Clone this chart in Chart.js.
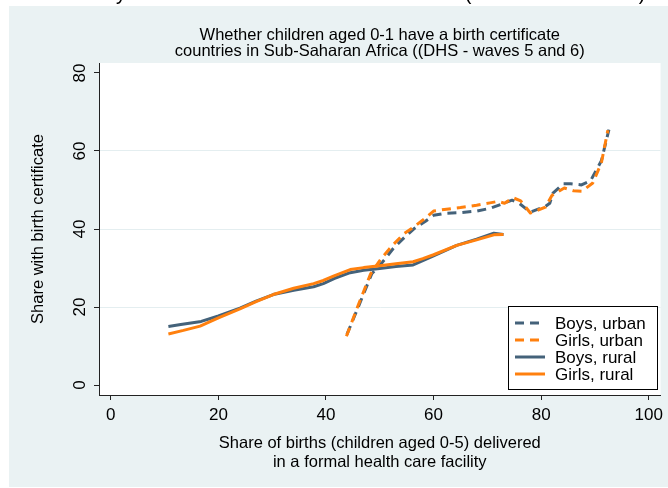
<!DOCTYPE html>
<html>
<head>
<meta charset="utf-8">
<script src="https://cdn.jsdelivr.net/npm/chart.js@4.4.1/dist/chart.umd.min.js"></script>
<style>
  html, body { margin: 0; padding: 0; background: #fff; }
  #wrap { width: 668px; height: 488px; }
</style>
</head>
<body>
<div id="wrap"><canvas id="myChart" width="668" height="488"></canvas></div>
<script>
// tick labels
var xTicks = [0, 20, 40, 60, 80, 100];
var yTicks = [0, 20, 40, 60, 80];

// series (x = share delivered in facility, y = share with certificate)
var boysUrbanX = [43.9, 46, 48.5, 50.5, 52.5, 54.7, 56.5, 58.5, 60, 62, 65, 68, 70.5, 72.5, 74.6, 76, 78, 80.8, 81.6, 82.2, 84.1, 85.5, 87.5, 89.2, 91.2, 92.6];
var boysUrbanY = [13, 20, 28.5, 31.5, 35, 38, 40.2, 42, 43.5, 44, 44.2, 44.6, 45.3, 46.3, 47.4, 46.5, 44.3, 45.8, 46.6, 49.2, 51.6, 51.6, 51.3, 52.4, 57.5, 65.5];

var girlsUrbanX = [43.8, 46, 48.3, 50.3, 52.5, 54.5, 56.3, 58.2, 60, 62, 65, 68, 70.5, 72, 73.2, 74.8, 76.2, 78, 80.8, 82, 84.3, 86, 87.6, 89.6, 91.2, 92.4];
var girlsUrbanY = [12.5, 20.5, 28.5, 32.5, 36, 38.8, 40.5, 42.5, 44.6, 45, 45.5, 46.1, 46.7, 47.1, 46.6, 48, 47.2, 44.1, 45.6, 48.6, 50.5, 49.8, 49.7, 51.8, 57, 65.3];

var boysRuralX = [10.7, 13, 16.8, 20, 24, 27, 30.2, 34, 37.7, 39.5, 41.5, 44.5, 47, 50, 53, 56.2, 58, 60, 64.3, 68, 71.2, 73];
var boysRuralY = [15, 15.5, 16.3, 17.7, 19.7, 21.5, 23.2, 24.3, 25.2, 26, 27.3, 28.8, 29.4, 29.9, 30.4, 30.8, 31.9, 33.1, 35.8, 37.4, 38.9, 38.6];

var girlsRuralX = [10.7, 13.5, 16.6, 20, 24, 27, 30.2, 34, 37.7, 39.5, 41.5, 44.5, 47, 50, 53, 56.2, 58, 60, 64.3, 68, 71.2, 73];
var girlsRuralY = [13.1, 14, 15.1, 17.2, 19.5, 21.4, 23.2, 24.8, 26, 26.8, 28, 29.6, 30.1, 30.6, 31.1, 31.6, 32.4, 33.4, 35.8, 37.2, 38.5, 38.6];

var seriesLabels = ["Boys, urban", "Girls, urban", "Boys, rural", "Girls, rural"];

var BLUE = "#44627a";
var ORANGE = "#ff800e";
var BG = "#eaf2f3";
var FONT = "'Liberation Sans', Arial, Helvetica, sans-serif";

function pts(xs, ys) {
    return xs.map(function (x, i) { return { x: x, y: ys[i] }; });
}

var decor = {
    id: 'decor',
    beforeDraw: function (chart) {
        var c = chart.ctx, a = chart.chartArea;
        c.save();
        c.fillStyle = "#fff";
        c.fillRect(0, 0, chart.width, chart.height);
        // descenders of the line above, cut off by the crop
        c.fillStyle = "#000";
        c.font = "20px " + FONT;
        c.textBaseline = "alphabetic";
        c.textAlign = "center";
        c.fillText("y", 121, 0);
        c.fillText("(", 468, 0);
        c.fillText(")", 642, 0);
        c.fillStyle = BG;
        c.fillRect(9, 6, chart.width - 9, 481);
        c.fillStyle = "#fff";
        c.fillRect(a.left, a.top, a.right - a.left, a.bottom - a.top);
        c.restore();
    },
    afterDraw: function (chart) {
        var c = chart.ctx, a = chart.chartArea;
        var ys = chart.scales.y;
        var cx = (a.left + a.right) / 2;
        c.save();
        c.fillStyle = "#000";
        c.font = "16.5px " + FONT;
        c.textAlign = "center";
        c.textBaseline = "middle";
        c.fillText("Whether children aged 0-1 have a birth certificate", cx, 35);
        c.fillText("countries in Sub-Saharan Africa ((DHS - waves 5 and 6)", cx, 51);
        c.fillText("Share of births (children aged 0-5) delivered", cx, 443);
        c.fillText("in a formal health care facility", cx, 462);

        // y title and rotated y tick labels
        c.save();
        c.translate(38, (a.top + a.bottom) / 2);
        c.rotate(-Math.PI / 2);
        c.fillText("Share with birth certificate", 0, 0);
        c.restore();
        c.font = "17px " + FONT;
        yTicks.forEach(function (v) {
            c.save();
            c.translate(80, ys.getPixelForValue(v));
            c.rotate(-Math.PI / 2);
            c.fillText(String(v), 0, 0);
            c.restore();
        });

        // legend
        var lx = 508, ly = 306, lw = 149, lh = 83;
        c.fillStyle = "#fff";
        c.fillRect(lx, ly, lw, lh);
        c.strokeStyle = "#000";
        c.lineWidth = 1;
        c.strokeRect(lx + 0.5, ly + 0.5, lw, lh);
        var rows = [323, 340, 357, 374];
        chart.data.datasets.forEach(function (ds, i) {
            c.beginPath();
            c.strokeStyle = ds.borderColor;
            c.lineWidth = ds.borderWidth;
            c.setLineDash(ds.borderDash || []);
            c.moveTo(515, rows[i]);
            c.lineTo(545, rows[i]);
            c.stroke();
            c.setLineDash([]);
            c.fillStyle = "#000";
            c.textAlign = "left";
            c.fillText(seriesLabels[i], 555, rows[i] + 1);
        });
        c.restore();
    }
};

var ctx = document.getElementById('myChart').getContext('2d');
var chart = new Chart(ctx, {
    type: 'scatter',
    data: {
        datasets: [{
            label: seriesLabels[0],
            data: pts(boysUrbanX, boysUrbanY),
            borderColor: BLUE,
            borderWidth: 3,
            borderDash: [9, 6],
            order: 1
        }, {
            label: seriesLabels[1],
            data: pts(girlsUrbanX, girlsUrbanY),
            borderColor: ORANGE,
            borderWidth: 3,
            borderDash: [9, 6],
            order: 0
        }, {
            label: seriesLabels[2],
            data: pts(boysRuralX, boysRuralY),
            borderColor: BLUE,
            borderWidth: 3,
            order: 1
        }, {
            label: seriesLabels[3],
            data: pts(girlsRuralX, girlsRuralY),
            borderColor: ORANGE,
            borderWidth: 3,
            order: 0
        }]
    },
    options: {
        responsive: false,
        animation: false,
        devicePixelRatio: 1,
        showLine: true,
        layout: { padding: { top: 63, right: 4, left: 0, bottom: 0 } },
        elements: {
            point: { radius: 0, hoverRadius: 0 },
            line: { tension: 0, fill: false, borderJoinStyle: 'round', borderCapStyle: 'butt' }
        },
        plugins: {
            legend: { display: false },
            tooltip: { enabled: false },
            title: { display: false }
        },
        scales: {
            x: {
                type: 'linear',
                min: -2.2,
                max: 102.2,
                afterBuildTicks: function (s) { s.ticks = xTicks.map(function (v) { return { value: v }; }); },
                afterFit: function (s) { s.height = 93; },
                grid: { color: 'rgba(0,0,0,0)', drawOnChartArea: false, tickLength: 5, tickColor: '#222' },
                border: { display: true, color: '#222', width: 1 },
                ticks: { autoSkip: false, maxRotation: 0, color: '#000', padding: 5, font: { size: 17, family: FONT } }
            },
            y: {
                type: 'linear',
                min: -2.56,
                max: 82.56,
                afterBuildTicks: function (s) { s.ticks = yTicks.map(function (v) { return { value: v }; }); },
                afterFit: function (s) { s.width = 99; },
                grid: {
                    color: function (c) { return (c.tick && (c.tick.value === 0 || c.tick.value === 80)) ? 'rgba(0,0,0,0)' : '#e4eef0'; },
                    tickLength: 5,
                    tickColor: '#222'
                },
                border: { display: true, color: '#222', width: 1 },
                ticks: { display: false }
            }
        }
    },
    plugins: [decor]
});
</script>
</body>
</html>
